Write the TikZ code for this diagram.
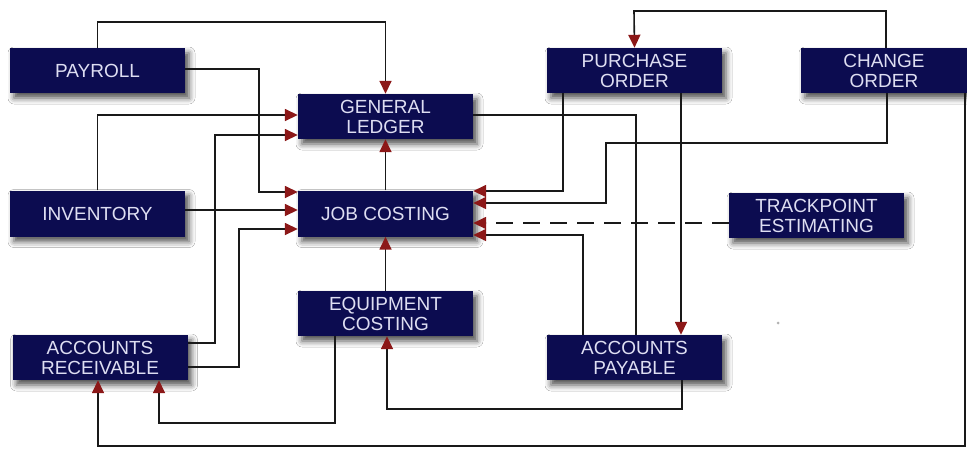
\documentclass[tikz,border=0pt]{standalone}
\usepackage{fontspec}
\setmainfont{Liberation Sans}
\usetikzlibrary{arrows.meta,shadows.blur}
\definecolor{boxfill}{RGB}{12,12,80}
\definecolor{boxtext}{RGB}{222,222,242}
\definecolor{arrowred}{RGB}{140,24,24}
\tikzset{
  module/.style={draw=none, fill=boxfill, text=boxtext, minimum width=175pt, minimum height=45pt,
    inner sep=0pt, align=center, font=\fontsize{19}{20}\selectfont,
    blur shadow={shadow xshift=4pt, shadow yshift=-5pt, shadow blur radius=6pt, shadow opacity=70}},
  link/.style={line width=1.6pt, black!90},
  arr/.style={link, -{Triangle[length=13pt,width=12pt,color=arrowred]}},
}
\begin{document}
\begin{tikzpicture}[x=1pt,y=-1pt]
\useasboundingbox[fill=white] (0,0) rectangle (967,448);
% nodes
\node[module] (pay) at (97.5,70.5) {PAYROLL};
\node[module] (gl)  at (385.5,116.5) {GENERAL\\LEDGER};
\node[module, minimum height=46pt] (inv) at (97.5,213.5) {INVENTORY};
\node[module, minimum height=46pt] (jc)  at (385.5,213.5) {JOB COSTING};
\node[module] (po)  at (634.5,70.5) {PURCHASE\\ORDER};
\node[module, minimum width=166pt] (co) at (884,70.5) {CHANGE\\ORDER};
\node[module] (te)  at (816.5,215.5) {TRACKPOINT\\ESTIMATING};
\node[module] (ec)  at (385.5,313.5) {EQUIPMENT\\COSTING};
\node[module] (ar)  at (100,357.5) {ACCOUNTS\\RECEIVABLE};
\node[module] (ap)  at (634.5,357.5) {ACCOUNTS\\PAYABLE};
% connectors
\draw[arr] (pay.north) -- (pay.north |- 0,22) -| (gl.north);
\draw[arr] (pay.east |- 0,69) -| (259,192) -- (jc.west |- 0,192);
\draw[arr] (inv.north) |- (gl.west |- 0,115);
\draw[arr] (inv.east |- 0,210) -- (jc.west |- 0,210);
\draw[arr] (ar.east |- 0,343) -| (215,135) -- (gl.west |- 0,135);
\draw[arr] (ar.east |- 0,367) -| (239,229) -- (jc.west |- 0,229);
\draw[arr] (jc.north) -- (gl.south);
\draw[arr] (ec.north) -- (jc.south);
\draw[arr] (ec.south -| 335,0) |- (159,423) -- (ar.south -| 159,0);
\draw[arr] (ap.south -| 682,0) |- (387,409) -- (ec.south -| 387,0);
\draw[arr] (co.north -| 886,0) |- (634,11) -- (po.north);
\draw[arr] (po.south -| 563,0) |- (jc.east |- 0,191);
\draw[arr] (co.south -| 887,0) |- (606,143) |- (jc.east |- 0,203);
\draw[link] (gl.east |- 0,115) -| (ap.north -| 636,0);
\draw[arr] (po.south -| 681,0) -- (ap.north -| 681,0);
\draw[arr] (ap.north -| 583,0) |- (jc.east |- 0,235);
\draw[arr, dash pattern=on 17pt off 10pt] (te.west |- 0,223) -- (jc.east |- 0,223);
\draw[arr] (co.south -| 965,0) |- (98,446) -- (ar.south -| 98,0);
\fill[gray!60] (778,323) circle (1.5pt);
\end{tikzpicture}
\end{document}
